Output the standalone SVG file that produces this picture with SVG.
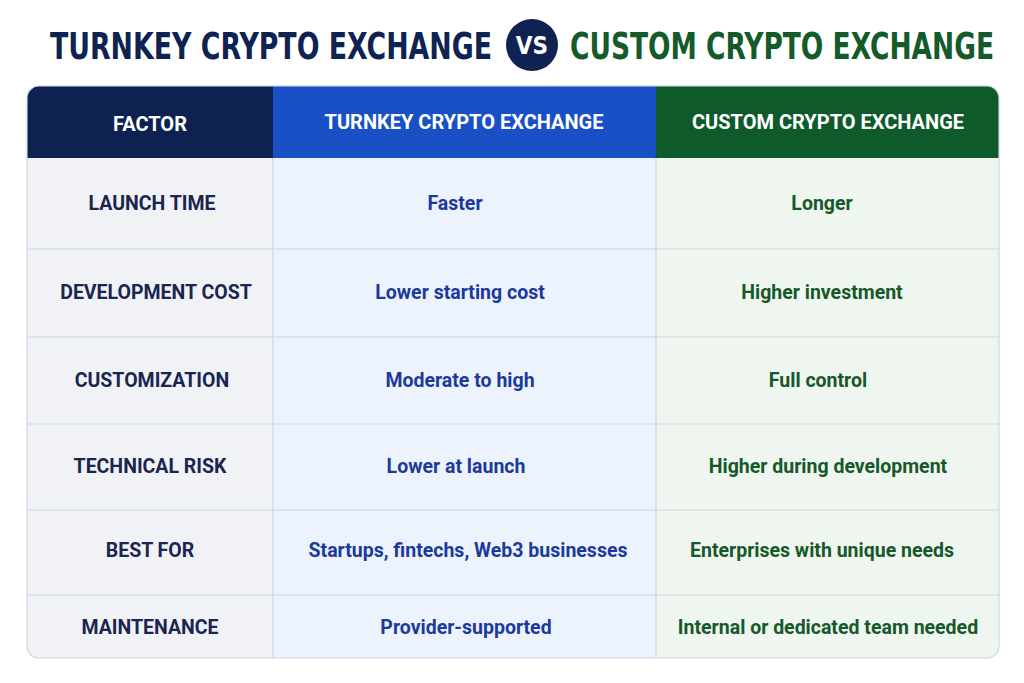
<svg xmlns="http://www.w3.org/2000/svg" width="1024" height="683" viewBox="0 0 1024 683">
<style>
.t{font-family:"DejaVu Sans Condensed","Liberation Sans",sans-serif;font-weight:bold;font-size:38px}
.h{font-family:Roboto,"Liberation Sans",sans-serif;font-weight:bold;font-size:20px;fill:#fff;text-anchor:middle}
.c{font-family:Roboto,"Liberation Sans",sans-serif;font-weight:bold;font-size:19.5px;text-anchor:middle}
.f{fill:#1a2550}.k{fill:#1b3a9c}.g{fill:#17582a}
.ln{stroke:#cfd6e2;stroke-width:1.2}
</style>
<rect width="1024" height="683" fill="#fff"/>
<g id="title">
<text class="t" x="50" y="59" fill="#0f2352" textLength="442" lengthAdjust="spacingAndGlyphs">TURNKEY CRYPTO EXCHANGE</text>
<circle cx="532" cy="45" r="26" fill="#0f2352"/>
<text x="532" y="54" font-family="DejaVu Sans Condensed,sans-serif" font-weight="bold" font-size="24" fill="#fff" text-anchor="middle">VS</text>
<text class="t" x="570" y="59" fill="#145a2a" textLength="424" lengthAdjust="spacingAndGlyphs">CUSTOM CRYPTO EXCHANGE</text>
</g>
<defs><clipPath id="cp"><rect x="27" y="86" width="972" height="572" rx="12"/></clipPath></defs>
<g id="table" clip-path="url(#cp)">
<rect x="27" y="86" width="246" height="572" fill="#f1f2f6"/>
<rect x="273" y="86" width="383" height="572" fill="#edf3fc"/>
<rect x="656" y="86" width="343" height="572" fill="#eef6ef"/>
<rect x="27" y="86" width="246" height="72" fill="#0e2252"/>
<rect x="273" y="86" width="383" height="72" fill="#1a50c6"/>
<rect x="656" y="86" width="343" height="72" fill="#0f5a2b"/>
<g class="ln">
<line x1="27" y1="249" x2="999" y2="249"/><line x1="27" y1="337" x2="999" y2="337"/>
<line x1="27" y1="424" x2="999" y2="424"/><line x1="27" y1="510" x2="999" y2="510"/>
<line x1="27" y1="595" x2="999" y2="595"/>
<line x1="273" y1="158" x2="273" y2="658"/><line x1="656" y1="158" x2="656" y2="658"/>
</g>
</g>
<rect x="27" y="86" width="972" height="572" rx="12" fill="none" stroke="#cfd6e2" stroke-width="1.2"/>
<g id="header">
<text class="h" x="150" y="131">FACTOR</text>
<text class="h" x="464" y="129">TURNKEY CRYPTO EXCHANGE</text>
<text class="h" x="828" y="129">CUSTOM CRYPTO EXCHANGE</text>
</g>
<g id="rows">
<text class="c f" x="152" y="210">LAUNCH TIME</text>
<text class="c k" x="455" y="210">Faster</text>
<text class="c g" x="822" y="210">Longer</text>
<text class="c f" x="156" y="299">DEVELOPMENT COST</text>
<text class="c k" x="460" y="299">Lower starting cost</text>
<text class="c g" x="822" y="299">Higher investment</text>
<text class="c f" x="152" y="387">CUSTOMIZATION</text>
<text class="c k" x="460" y="387">Moderate to high</text>
<text class="c g" x="818" y="387">Full control</text>
<text class="c f" x="150" y="473">TECHNICAL RISK</text>
<text class="c k" x="456" y="473">Lower at launch</text>
<text class="c g" x="828" y="473">Higher during development</text>
<text class="c f" x="150" y="557">BEST FOR</text>
<text class="c k" x="468" y="557">Startups, fintechs, Web3 businesses</text>
<text class="c g" x="822" y="557">Enterprises with unique needs</text>
<text class="c f" x="150" y="634">MAINTENANCE</text>
<text class="c k" x="466" y="634">Provider-supported</text>
<text class="c g" x="828" y="634">Internal or dedicated team needed</text>
</g>
</svg>
